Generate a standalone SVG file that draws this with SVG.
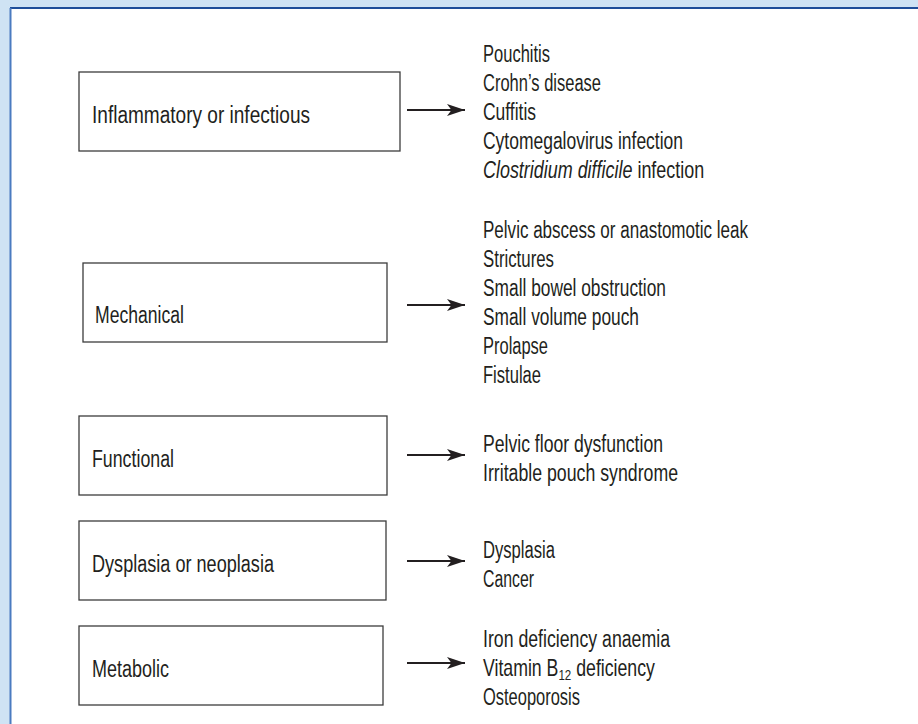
<svg xmlns="http://www.w3.org/2000/svg" width="918" height="724" viewBox="0 0 918 724">
<defs>
<marker id="ah" markerUnits="userSpaceOnUse" markerWidth="20" markerHeight="13" refX="18" refY="6" orient="auto">
<path d="M0,0 L18,6 L0,12 L4.5,6 Z" fill="#231f20"/>
</marker>
<style>
.box{fill:#fff;stroke:#3c3c3c;stroke-width:1.3}
.t{font-family:"Liberation Sans",Arial,sans-serif;font-size:23px;fill:#231f20}
.i{font-style:italic}
.s{font-size:15px}
.c{stroke:#231f20;stroke-width:1.8;fill:none}
</style>
</defs>
<rect x="0" y="0" width="918" height="724" fill="#cfe3f4"/>
<rect x="10" y="8" width="910" height="720" fill="#ffffff"/>
<line x1="10" y1="8" x2="918" y2="8" stroke="#1f4e99" stroke-width="2"/>
<line x1="10.5" y1="8" x2="10.5" y2="724" stroke="#4a7bc0" stroke-width="2"/>

<g id="node-inflammatory">
<rect class="box" x="79" y="72" width="321" height="79"/>
<text class="t" x="92" y="123" textLength="218" lengthAdjust="spacingAndGlyphs">Inflammatory or infectious</text>
</g>
<g id="node-mechanical">
<rect class="box" x="83" y="263" width="304" height="79"/>
<text class="t" x="95" y="323" textLength="89" lengthAdjust="spacingAndGlyphs">Mechanical</text>
</g>
<g id="node-functional">
<rect class="box" x="79" y="416" width="308" height="79"/>
<text class="t" x="92" y="467" textLength="82" lengthAdjust="spacingAndGlyphs">Functional</text>
</g>
<g id="node-dysplasia">
<rect class="box" x="79" y="521" width="307" height="79"/>
<text class="t" x="92" y="572" textLength="182" lengthAdjust="spacingAndGlyphs">Dysplasia or neoplasia</text>
</g>
<g id="node-metabolic">
<rect class="box" x="79" y="626" width="304" height="79"/>
<text class="t" x="92" y="677" textLength="77" lengthAdjust="spacingAndGlyphs">Metabolic</text>
</g>

<g id="connectors">
<line class="c" x1="407" y1="110" x2="465" y2="110" marker-end="url(#ah)"/>
<line class="c" x1="407" y1="305" x2="465" y2="305" marker-end="url(#ah)"/>
<line class="c" x1="407" y1="455" x2="465" y2="455" marker-end="url(#ah)"/>
<line class="c" x1="407" y1="561" x2="465" y2="561" marker-end="url(#ah)"/>
<line class="c" x1="407" y1="663" x2="465" y2="663" marker-end="url(#ah)"/>
</g>

<g id="list-inflammatory">
<text class="t" x="483" y="62" textLength="67" lengthAdjust="spacingAndGlyphs">Pouchitis</text>
<text class="t" x="483" y="91" textLength="118" lengthAdjust="spacingAndGlyphs">Crohn’s disease</text>
<text class="t" x="483" y="120" textLength="53" lengthAdjust="spacingAndGlyphs">Cuffitis</text>
<text class="t" x="483" y="149" textLength="200" lengthAdjust="spacingAndGlyphs">Cytomegalovirus infection</text>
<text class="t" transform="translate(483,178) scale(0.78,1)" x="0" y="0"><tspan class="i">Clostridium difficile</tspan> infection</text>
</g>
<g id="list-mechanical">
<text class="t" x="483" y="238" textLength="265" lengthAdjust="spacingAndGlyphs">Pelvic abscess or anastomotic leak</text>
<text class="t" x="483" y="267" textLength="71" lengthAdjust="spacingAndGlyphs">Strictures</text>
<text class="t" x="483" y="296" textLength="183" lengthAdjust="spacingAndGlyphs">Small bowel obstruction</text>
<text class="t" x="483" y="325" textLength="156" lengthAdjust="spacingAndGlyphs">Small volume pouch</text>
<text class="t" x="483" y="354" textLength="65" lengthAdjust="spacingAndGlyphs">Prolapse</text>
<text class="t" x="483" y="383" textLength="58" lengthAdjust="spacingAndGlyphs">Fistulae</text>
</g>
<g id="list-functional">
<text class="t" x="483" y="452" textLength="180" lengthAdjust="spacingAndGlyphs">Pelvic floor dysfunction</text>
<text class="t" x="483" y="481" textLength="195" lengthAdjust="spacingAndGlyphs">Irritable pouch syndrome</text>
</g>
<g id="list-dysplasia">
<text class="t" x="483" y="558" textLength="72" lengthAdjust="spacingAndGlyphs">Dysplasia</text>
<text class="t" x="483" y="587" textLength="51" lengthAdjust="spacingAndGlyphs">Cancer</text>
</g>
<g id="list-metabolic">
<text class="t" x="483" y="647" textLength="187" lengthAdjust="spacingAndGlyphs">Iron deficiency anaemia</text>
<text class="t" transform="translate(483,676) scale(0.77,1)" x="0" y="0">Vitamin B<tspan class="s" dy="4">12</tspan><tspan dy="-4"> deficiency</tspan></text>
<text class="t" x="483" y="705" textLength="97" lengthAdjust="spacingAndGlyphs">Osteoporosis</text>
</g>
</svg>
